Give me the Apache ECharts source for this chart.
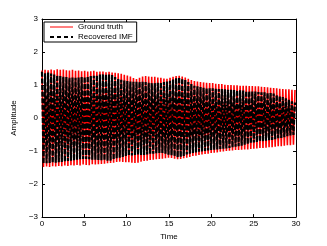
<!DOCTYPE html>
<html><head><meta charset="utf-8">
<script src="https://cdn.jsdelivr.net/npm/echarts@6/dist/echarts.min.js"></script>
<style>html,body{margin:0;padding:0;background:#fff}#c{width:327px;height:246px}</style>
</head><body><div id="c"></div>
<script>
// sampling step of the signals (s), samples start at t = 0
const sampleStep = 0.18;
const seriesNames = ["Ground truth", "Recovered IMF"];
const xTicks = [0, 5, 10, 15, 20, 25, 30];
const yTicks = [-3, -2, -1, 0, 1, 2, 3];
// ground truth samples (alternate peaks / troughs)
const groundTruth = [
 1.44,-1.48,1.46,-1.47,1.45,-1.48,
 1.47,-1.46,1.45,-1.47,1.48,-1.45,
 1.46,-1.46,1.47,-1.44,1.45,
 -1.45,1.44,-1.43,1.46,-1.44,1.43,
 -1.42,1.44,-1.44,1.42,-1.41,
 1.43,-1.42,1.41,-1.43,1.42,-1.40,
 1.43,-1.41,1.40,-1.40,1.41,
 -1.39,1.41,-1.38,1.39,-1.37,1.40,
 -1.36,1.38,-1.35,1.37,-1.33,
 1.36,-1.32,1.34,-1.33,1.31,-1.34,
 1.29,-1.34,1.26,-1.35,1.21,-1.36,
 1.18,-1.35,1.22,-1.32,1.26,
 -1.30,1.27,-1.29,1.26,-1.27,1.25,
 -1.26,1.25,-1.25,1.23,-1.24,
 1.22,-1.23,1.20,-1.22,1.19,-1.20,
 1.22,-1.21,1.25,-1.23,1.27,
 -1.25,1.28,-1.24,1.26,-1.22,1.23,
 -1.20,1.19,-1.18,1.15,-1.15,
 1.12,-1.14,1.11,-1.12,1.09,-1.10,
 1.08,-1.09,1.07,-1.08,1.06,-1.06,
 1.06,-1.05,1.04,-1.04,1.03,
 -1.02,1.03,-1.01,1.01,-1.00,1.00,
 -0.99,1.00,-0.98,0.99,-0.97,
 0.99,-0.97,0.98,-0.96,0.98,-0.95,
 0.98,-0.95,0.97,-0.94,0.97,
 -0.93,0.96,-0.92,0.96,-0.91,0.95,
 -0.91,0.94,-0.90,0.93,-0.88,
 0.92,-0.88,0.91,-0.87,0.90,-0.85,
 0.89,-0.85,0.88,-0.84,0.87,-0.82,
 0.87,-0.82,0.86,-0.81,0.85
];
// recovered IMF samples
const recoveredIMF = [
 1.40,-1.38,1.36,-1.37,1.38,-1.36,
 1.35,-1.36,1.32,-1.35,1.30,-1.34,
 1.27,-1.33,1.25,-1.32,1.24,
 -1.30,1.22,-1.29,1.23,-1.28,1.22,
 -1.26,1.23,-1.25,1.24,-1.24,
 1.25,-1.24,1.26,-1.25,1.27,-1.26,
 1.28,-1.26,1.30,-1.27,1.32,
 -1.28,1.33,-1.28,1.33,-1.29,1.32,
 -1.29,1.30,-1.26,1.24,-1.22,
 1.18,-1.20,1.16,-1.18,1.14,-1.15,
 1.12,-1.14,1.11,-1.13,1.10,-1.12,
 1.10,-1.12,1.10,-1.12,1.10,
 -1.12,1.09,-1.10,1.07,-1.09,1.06,
 -1.08,1.06,-1.07,1.07,-1.06,
 1.08,-1.06,1.09,-1.08,1.11,-1.11,
 1.13,-1.13,1.17,-1.16,1.21,
 -1.19,1.23,-1.18,1.20,-1.15,1.15,
 -1.10,1.09,-1.08,1.03,-1.06,
 0.98,-1.04,0.96,-1.02,0.94,-1.01,
 0.92,-1.00,0.91,-0.98,0.90,-0.97,
 0.90,-0.96,0.89,-0.95,0.88,
 -0.94,0.88,-0.93,0.87,-0.92,0.86,
 -0.91,0.86,-0.89,0.85,-0.87,
 0.84,-0.85,0.84,-0.84,0.83,-0.81,
 0.82,-0.79,0.81,-0.77,0.80,
 -0.74,0.80,-0.73,0.79,-0.71,0.78,
 -0.70,0.78,-0.69,0.77,-0.67,
 0.76,-0.66,0.74,-0.64,0.70,-0.61,
 0.67,-0.60,0.64,-0.58,0.60,-0.55,
 0.55,-0.53,0.51,-0.51,0.47
];

const toPairs = arr => arr.map((v, i) => [+(i * sampleStep).toFixed(2), v]);
const font = 'Liberation Sans, Arial, sans-serif';
const minus = v => String(v).replace('-', '\u2212');
const axisLineStyle = {color: '#000', width: 1};

const chart = echarts.init(document.getElementById('c'), null, {renderer: 'canvas'});
chart.setOption({
  animation: false,
  backgroundColor: '#fff',
  grid: {left: 42, right: 31, top: 19, bottom: 28, containLabel: false},
  legend: {
    orient: 'vertical', left: 44, top: 22,
    backgroundColor: '#fff', borderColor: '#000', borderWidth: 1, borderRadius: 0,
    padding: [1, 4, 1, 5], itemGap: 2, itemWidth: 23, itemHeight: 10,
    itemStyle: {opacity: 0},
    textStyle: {fontFamily: font, fontSize: 8, color: '#000'},
    data: [
      {name: seriesNames[0], lineStyle: {width: 1, color: '#ff0000'}},
      {name: seriesNames[1], lineStyle: {width: 2, color: '#000', type: [4, 3]}}
    ]
  },
  xAxis: [{
    type: 'value', min: xTicks[0], max: xTicks[xTicks.length - 1], interval: 5,
    name: 'Time', nameLocation: 'middle', nameGap: 15,
    nameTextStyle: {fontFamily: font, fontSize: 8, color: '#000'},
    axisLine: {show: true, onZero: false, lineStyle: axisLineStyle},
    axisTick: {show: true, inside: true, length: 3, lineStyle: axisLineStyle},
    axisLabel: {fontFamily: font, fontSize: 8, color: '#000', margin: 3, formatter: minus},
    splitLine: {show: false}
  }, {
    type: 'value', position: 'top', min: xTicks[0], max: xTicks[xTicks.length - 1], interval: 5,
    axisLine: {show: true, onZero: false, lineStyle: axisLineStyle},
    axisTick: {show: true, inside: true, length: 3, lineStyle: axisLineStyle},
    axisLabel: {show: false}, splitLine: {show: false}
  }],
  yAxis: [{
    type: 'value', min: yTicks[0], max: yTicks[yTicks.length - 1], interval: 1,
    name: 'Amplitude', nameLocation: 'middle', nameGap: 19, nameRotate: 90,
    nameTextStyle: {fontFamily: font, fontSize: 8, color: '#000'},
    axisLine: {show: true, onZero: false, lineStyle: axisLineStyle},
    axisTick: {show: true, inside: true, length: 3, lineStyle: axisLineStyle},
    axisLabel: {fontFamily: font, fontSize: 8, color: '#000', margin: 4, formatter: minus},
    splitLine: {show: false}
  }, {
    type: 'value', position: 'right', min: yTicks[0], max: yTicks[yTicks.length - 1], interval: 1,
    axisLine: {show: true, onZero: false, lineStyle: axisLineStyle},
    axisTick: {show: true, inside: true, length: 3, lineStyle: axisLineStyle},
    axisLabel: {show: false}, splitLine: {show: false}
  }],
  series: [{
    name: seriesNames[0], type: 'line', symbol: 'none', showSymbol: false,
    data: toPairs(groundTruth),
    lineStyle: {color: '#ff0000', width: 1.6}, itemStyle: {color: '#ff0000'}, z: 2
  }, {
    name: seriesNames[1], type: 'line', symbol: 'none', showSymbol: false,
    data: toPairs(recoveredIMF),
    lineStyle: {color: '#000', width: 2.2, type: [5, 1.6]}, itemStyle: {color: '#000'}, z: 3
  }]
});
</script></body></html>
